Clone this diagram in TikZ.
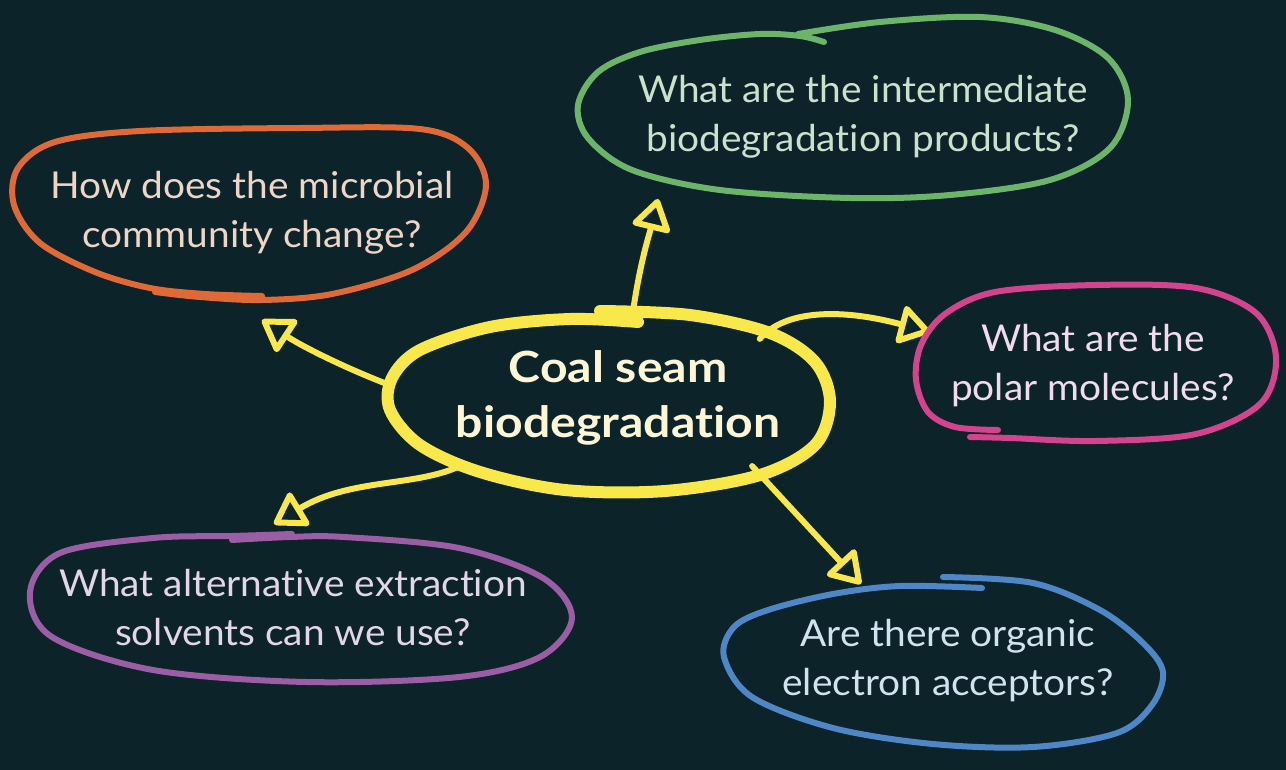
\documentclass[tikz,border=0pt]{standalone}
\usepackage{fontspec}
\setmainfont[FakeStretch=1.05,RawFeature={-liga}]{Lato}
\newfontfamily\corefont[FakeStretch=1.12,RawFeature={-liga}]{Lato Bold}
\usetikzlibrary{arrows.meta,shapes.geometric}
\definecolor{bg}{HTML}{0C2329}
\definecolor{cyel}{HTML}{F8E84A}
\definecolor{corange}{HTML}{E06A36}
\definecolor{cgreen}{HTML}{6DB46B}
\definecolor{cmag}{HTML}{D4448E}
\definecolor{cpurp}{HTML}{9B5EA5}
\definecolor{cblue}{HTML}{4F86C6}
\definecolor{tcore}{HTML}{FCF6D6}
\definecolor{torange}{HTML}{EDD5C8}
\definecolor{tgreen}{HTML}{CAE2CC}
\definecolor{tmag}{HTML}{F0DCEC}
\definecolor{tpurp}{HTML}{E3D6EA}
\definecolor{tblue}{HTML}{D2E3F0}
\begin{document}
\begin{tikzpicture}[x=1pt,y=-1pt,
  outline/.style={line width=6pt, line cap=round, line join=round},
  conn/.style={draw=cyel, line width=6pt, line cap=round,
    -{Triangle[open,length=34pt,width=42pt,round]}},
  qtext/.style={align=center, inner sep=0pt, font=\fontsize{37}{49}\selectfont}]
\fill[bg] (0,0) rectangle (1286,770);
\useasboundingbox (0,0) rectangle (1286,770);

% geometric stand-in for the central outline
\node[ellipse, draw=none, inner sep=0pt, outer sep=0pt,
      minimum width=434pt, minimum height=176pt] (core) at (606,401) {};

% question texts
\node[qtext, text=torange] (qOrange) at (252,213) {How does the microbial\\community change?};
\node[qtext, text=tgreen]  (qGreen)  at (863,117) {What are the intermediate\\biodegradation products?};
\node[qtext, text=tmag]    (qMag)    at (1093,366) {What are the\\polar molecules?};
\node[qtext, text=tpurp]   (qPurp)   at (293,608) {What alternative extraction\\solvents can we use?};
\node[qtext, text=tblue]   (qBlue)   at (948,661) {Are there organic\\electron acceptors?};

% arrow tips
\coordinate (tipO) at (262,320);
\coordinate (tipG) at (658,199);
\coordinate (tipM) at (930,332);
\coordinate (tipP) at (274,524);
\coordinate (tipB) at (861,584);

% connectors
\draw[conn] (core.176) .. controls (340,366) and (300,345) .. (tipO);
\draw[conn] (core.73) .. controls (640,262) and (650,232) .. (tipG);
\draw[conn] (core.22) .. controls (785,310) and (840,308) .. (tipM);
\draw[conn] (core.204) .. controls (415,487) and (350,478) .. (tipP);
\draw[conn] (core.-24) -- (tipB);

% hand-drawn outlines
\draw[outline, cyel, line width=12pt] plot[smooth, tension=0.55] coordinates {
  (600,311) (690,315) (770,333) (815,362) (830,402) (815,445) (760,475) (665,491)
  (565,490) (480,472) (420,445) (390,410) (392,378) (420,350) (490,327) (570,319) (638,322)};
\draw[outline, corange] plot[smooth, tension=0.55] coordinates {
  (262,296) (205,294) (150,288) (95,272) (40,243) (14,205) (18,168) (55,142) (140,131)
  (300,128) (420,129) (468,148) (486,185) (466,232) (412,270) (332,294) (262,300) (200,297) (155,292)};
\draw[outline, cgreen] plot[smooth, tension=0.55] coordinates {
  (798,34) (880,22) (980,17) (1055,30) (1108,58) (1128,100) (1110,148) (1050,180) (950,195)
  (850,198) (720,190) (632,170) (588,138) (578,105) (598,72) (640,52) (700,40) (760,34) (800,36) (824,42)};
\draw[outline, cmag] plot[smooth, tension=0.55] coordinates {
  (998,430) (955,427) (928,412) (916,380) (921,345) (945,314) (995,292) (1096,285) (1196,288)
  (1256,313) (1276,358) (1260,404) (1196,434) (1096,441) (1010,438) (970,437)};
\draw[outline, cpurp] plot[smooth, tension=0.55] coordinates {
  (232,540) (290,537) (344,537) (459,548) (543,578) (572,618) (540,657) (459,677) (306,682)
  (153,670) (52,637) (30,592) (60,553) (153,538) (232,536) (292,534)};
\draw[outline, cblue] plot[smooth, tension=0.55] coordinates {
  (943,577) (1033,583) (1100,610) (1143,643) (1163,672) (1152,705) (1117,733) (1033,747)
  (933,744) (833,728) (752,697) (724,657) (734,627) (768,610) (833,594) (900,586) (982,588)};

% central label
\node[align=center, inner sep=0pt, text=tcore,
      font=\fontsize{43}{55}\corefont] (coreText) at (618,398) {Coal seam\\biodegradation};
\end{tikzpicture}
\end{document}
